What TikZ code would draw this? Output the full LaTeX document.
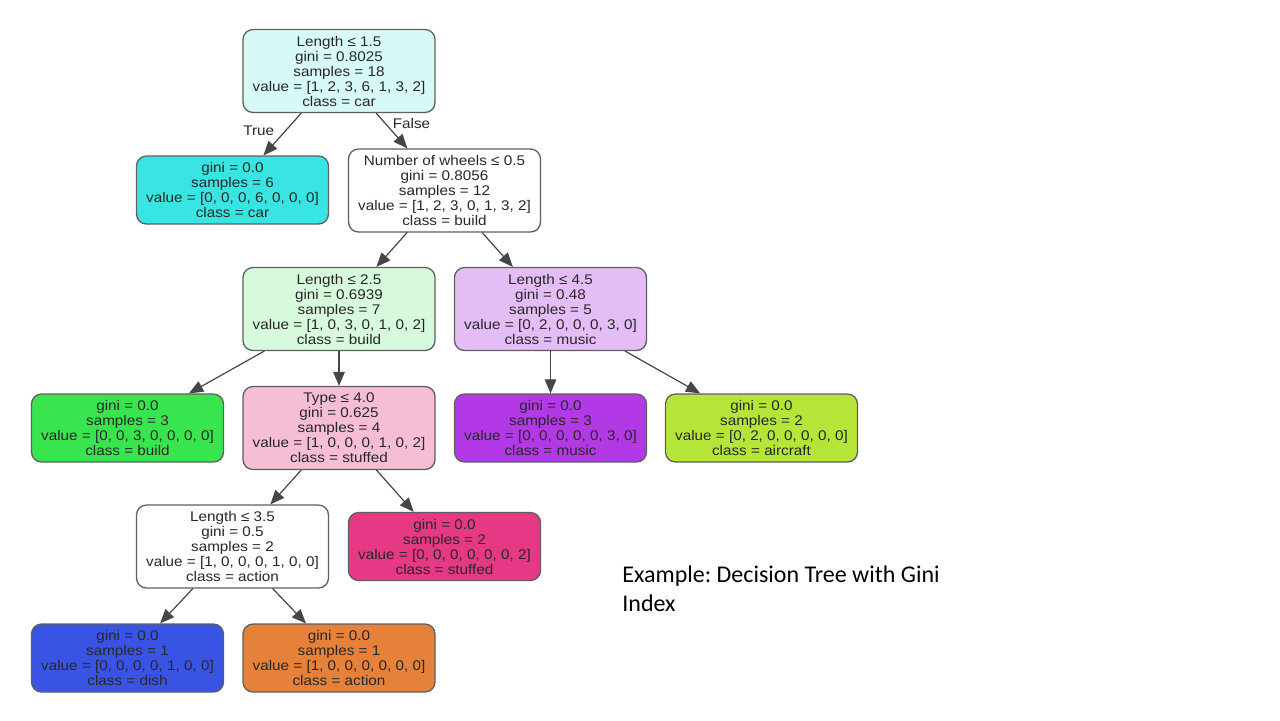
\documentclass[tikz,border=0pt]{standalone}
\usepackage{fontspec}
\usepackage{tikz}
\usetikzlibrary{arrows}
\frenchspacing
\newfontfamily\treefont[FakeStretch=1.09]{Liberation Sans}
\newfontfamily\capfont{Carlito}
\definecolor{edgegray}{RGB}{70,70,70}
\definecolor{boxline}{RGB}{95,95,95}
\definecolor{txtgray}{RGB}{40,40,40}
\definecolor{rootfill}{RGB}{215,250,249}
\definecolor{carfill}{RGB}{57,229,227}
\definecolor{buildlight}{RGB}{215,250,220}
\definecolor{buildfill}{RGB}{57,229,79}
\definecolor{musiclight}{RGB}{229,189,246}
\definecolor{musicfill}{RGB}{178,57,229}
\definecolor{aircraftfill}{RGB}{182,229,57}
\definecolor{stuffedlight}{RGB}{246,189,214}
\definecolor{stuffedfill}{RGB}{229,57,133}
\definecolor{dishfill}{RGB}{57,84,229}
\definecolor{actionfill}{RGB}{229,129,57}
\tikzset{
  treebox/.style={draw=boxline,line width=0.65pt,rounded corners=5pt,inner sep=0pt,
    minimum width=96pt,align=center,text=txtgray,font=\treefont\fontsize{7}{7.5}\selectfont},
  split/.style={treebox,minimum height=41.5pt},
  leaf/.style={treebox,minimum height=34pt},
  edgelbl/.style={font=\treefont\fontsize{7}{7.5}\selectfont,text=txtgray}
}
\begin{document}
\begin{tikzpicture}[line cap=round,line join=round,>=triangle 45,x=0.5pt,y=-0.5pt]
\useasboundingbox[fill=white] (0,0) rectangle (1280,720);

\node[split,fill=rootfill] (root) at (339,71) {Length ≤ 1.5\\gini = 0.8025\\samples = 18\\value = [1, 2, 3, 6, 1, 3, 2]\\class = car};
\node[leaf,fill=carfill] (car) at (232.5,190) {gini = 0.0\\samples = 6\\value = [0, 0, 0, 6, 0, 0, 0]\\class = car};
\node[split,fill=white] (wheels) at (444.5,190.5) {Number of wheels ≤ 0.5\\gini = 0.8056\\samples = 12\\value = [1, 2, 3, 0, 1, 3, 2]\\class = build};
\node[split,fill=buildlight] (lenb) at (339,309) {Length ≤ 2.5\\gini = 0.6939\\samples = 7\\value = [1, 0, 3, 0, 1, 0, 2]\\class = build};
\node[split,fill=musiclight] (lenc) at (550.5,309) {Length ≤ 4.5\\gini = 0.48\\samples = 5\\value = [0, 2, 0, 0, 0, 3, 0]\\class = music};
\node[leaf,fill=buildfill] (build) at (127.5,428) {gini = 0.0\\samples = 3\\value = [0, 0, 3, 0, 0, 0, 0]\\class = build};
\node[split,fill=stuffedlight] (type) at (339,428) {Type ≤ 4.0\\gini = 0.625\\samples = 4\\value = [1, 0, 0, 0, 1, 0, 2]\\class = stuffed};
\node[leaf,fill=musicfill] (music) at (550.5,428) {gini = 0.0\\samples = 3\\value = [0, 0, 0, 0, 0, 3, 0]\\class = music};
\node[leaf,fill=aircraftfill] (aircraft) at (761.5,428) {gini = 0.0\\samples = 2\\value = [0, 2, 0, 0, 0, 0, 0]\\class = aircraft};
\node[split,fill=white] (lena) at (232.5,546.5) {Length ≤ 3.5\\gini = 0.5\\samples = 2\\value = [1, 0, 0, 0, 1, 0, 0]\\class = action};
\node[leaf,fill=stuffedfill] (stuffed) at (444.5,546.5) {gini = 0.0\\samples = 2\\value = [0, 0, 0, 0, 0, 0, 2]\\class = stuffed};
\node[leaf,fill=dishfill] (dish) at (127.5,658) {gini = 0.0\\samples = 1\\value = [0, 0, 0, 0, 1, 0, 0]\\class = dish};
\node[leaf,fill=actionfill] (action) at (339,658) {gini = 0.0\\samples = 1\\value = [1, 0, 0, 0, 0, 0, 0]\\class = action};

\begin{scope}[draw=edgegray,line width=0.6pt]
\draw[->] (root) -- node[edgelbl,pos=0.42,left=2pt] {True} (car);
\draw[->] (root) -- node[edgelbl,pos=0.3,right=0pt] {False} (wheels);
\draw[->] (wheels) -- (lenb);
\draw[->] (wheels) -- (lenc);
\draw[->] (lenb) -- (build);
\draw[->] (lenb) -- (type);
\draw[->] (lenc) -- (music);
\draw[->] (lenc) -- (aircraft);
\draw[->] (type) -- (lena);
\draw[->] (type) -- (stuffed);
\draw[->] (lena) -- (dish);
\draw[->] (lena) -- (action);
\end{scope}

\node[anchor=base west,inner sep=0pt,align=left,font=\capfont\fontsize{12}{14.5}\selectfont] (caption) at (622,611) {Example: Decision Tree with Gini\\Index};
\end{tikzpicture}
\end{document}
